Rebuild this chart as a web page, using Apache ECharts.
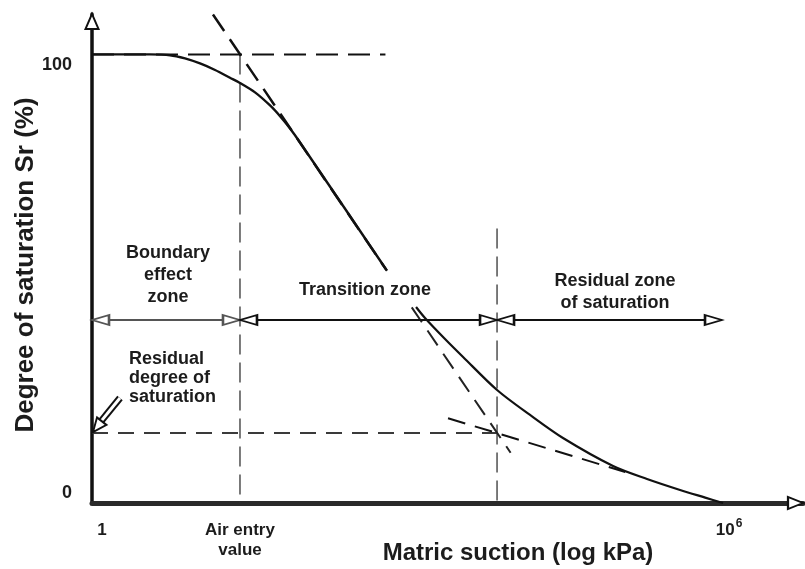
<!DOCTYPE html>
<html>
<head>
<meta charset="utf-8">
<script src="https://cdn.jsdelivr.net/npm/echarts@6/dist/echarts.min.js"></script>
<style>
  html, body { margin: 0; padding: 0; background: #fff; }
  #chart { width: 805px; height: 569px; }
</style>
</head>
<body>
<div id="chart"></div>
<script>
// x = log10(matric suction, kPa), y = degree of saturation Sr (%)
const X_MAX = 6.76, Y_MAX = 109;
const AIR_ENTRY = 1.407;          // air entry value (log kPa)
const RESIDUAL_X = 3.851;         // residual suction (log kPa)
const RESIDUAL_SR = 15.6;         // residual degree of saturation
const ZONE_Y = 40.8;              // level of the zone arrows

// soil-water characteristic curve (split where the "Transition zone" label sits)
const curveUpper = [[0,100],[0.551,100],[0.742,99.82],[0.884,99.09],[1.027,97.97],[1.170,96.52],
  [1.312,94.78],[1.407,93.62],[1.550,91.53],[1.693,88.61],[1.788,86.22],[1.883,83.48],[1.978,80.36],[2.805,51.76]];
const curveLower = [[3.081,43.69],[3.166,41.24],[3.347,36.78],[3.528,32.55],[3.851,25.19],[4.165,19.62],
  [4.478,14.49],[4.954,8.25],[5.277,5.35],[5.591,2.90],[5.83,1.2],[6.0,0]];

// construction lines
const tangentUpper = [[1.15,108.9],[2.80,51.9]];
const tangentLower = [[3.04,43.6],[3.98,11.2]];
const residualTangent = [[3.385,18.9],[5.07,6.9]];
const saturatedLine = [[0,100],[2.79,100]];
const residualLine = [[0,RESIDUAL_SR],[RESIDUAL_X,RESIDUAL_SR]];
const airEntryLine = [[AIR_ENTRY,100],[AIR_ENTRY,0]];
const residualVLine = [[RESIDUAL_X,61.2],[RESIDUAL_X,0]];

// zones along the arrows
const zoneEdges = [0, AIR_ENTRY, RESIDUAL_X, 5.99];

// pointer for "Residual degree of saturation"
const pointerTail = [0.266, 23.4];
const pointerNeck = [0.085, 18.2];
const pointerTip = [0.01, 15.8];

// text notes
const noteTexts = ["Boundary\neffect\nzone", "Transition zone", "Residual zone\nof saturation", "Residual\ndegree of\nsaturation"];
const notePos = [[0.723,50.8],[2.596,47.5],[4.973,47.0],[0.352,27.9]];
const noteLineHeight = [22, 22, 22, 19];
const noteAlign = ["center", "center", "center", "left"];

const xTicks = [0, AIR_ENTRY, 6];
const yTicks = [0, 100];

const FONT = "Liberation Sans, Arial, sans-serif";
const INK = "#1c1c1c";

const chart = echarts.init(document.getElementById("chart"), null, { renderer: "canvas" });

const seg = (data, color, width, type, z, smooth) => ({
  type: "line", data, symbol: "none", silent: true, smooth: smooth || false,
  lineStyle: { color, width, type }, z: z || 2
});

// hollow triangle heads; tip sits on the point, offset moves the triangle back
const head = (pt, dir, color, len, wid) => {
  const rot = { left: 90, right: -90, up: 0 }[dir];
  const off = { left: [len/2, 0], right: [-len/2, 0], up: [0, len/2] }[dir];
  return { value: pt, symbolRotate: rot, symbolOffset: off, symbolSize: [wid, len],
    itemStyle: { color: "#fff", borderColor: color, borderWidth: 2, opacity: 1 } };
};

const heads = [
  head([0, ZONE_Y], "left", "#555", 17, 10),
  head([zoneEdges[1], ZONE_Y], "right", "#555", 17, 10),
  head([zoneEdges[1], ZONE_Y], "left", "#111", 17, 10),
  head([zoneEdges[2], ZONE_Y], "right", "#111", 17, 10),
  head([zoneEdges[2], ZONE_Y], "left", "#111", 17, 10),
  head([zoneEdges[3], ZONE_Y], "right", "#111", 17, 10),
  head([0, Y_MAX], "up", "#111", 15, 13),
  head([X_MAX, 0], "right", "#111", 15, 12),
];

// pointer head, aimed down-left at the residual level
const pointerHead = {
  value: pointerTip, symbolRotate: 141.5, symbolOffset: [4.3, -5.5], symbolSize: [12, 14],
  itemStyle: { color: "#fff", borderColor: "#111", borderWidth: 2, opacity: 1 }
};

const notes = noteTexts.map((t, i) => ({
  name: t, value: notePos[i],
  label: { align: noteAlign[i], lineHeight: noteLineHeight[i] }
}));

chart.setOption({
  animation: false,
  backgroundColor: "#fff",
  grid: { left: 92, right: 2, top: 14, bottom: 66, outerBoundsMode: "none", containLabel: false },
  xAxis: {
    type: "value", min: 0, max: X_MAX,
    splitLine: { show: false }, axisTick: { show: false },
    axisLine: { lineStyle: { color: "#2a2a2a", width: 5 } },
    axisLabel: {
      customValues: xTicks, margin: 17, color: INK, fontFamily: FONT,
      fontWeight: "bold", fontSize: 17, lineHeight: 20,
      formatter: (v) => v === 0 ? "{one|1}" : (v === 6 ? "{base|10}{sup|6}" : "Air entry\nvalue"),
      rich: {
        one: { fontSize: 17, fontWeight: "bold", fontFamily: FONT, color: INK, padding: [0, 0, 0, 20] },
        base: { fontSize: 17, fontWeight: "bold", fontFamily: FONT, color: INK, padding: [0, 0, 0, 12] },
        sup: { fontSize: 12, fontWeight: "bold", fontFamily: FONT, color: INK, padding: [0, 0, 12, 1] }
      }
    },
    name: "Matric suction (log kPa)", nameLocation: "middle", nameGap: 38, nameMoveOverlap: false,
    nameTextStyle: { fontSize: 24, fontWeight: "bold", fontFamily: FONT, color: INK, padding: [0, 0, 0, 141] }
  },
  yAxis: {
    type: "value", min: 0, max: Y_MAX,
    splitLine: { show: false }, axisTick: { show: false },
    axisLine: { lineStyle: { color: "#111", width: 3.5 } },
    axisLabel: {
      customValues: yTicks, margin: 20, color: INK, fontFamily: FONT,
      fontWeight: "bold", fontSize: 18,
      formatter: (v) => v === 100 ? "{hi|100}" : "{lo|0}",
      rich: {
        hi: { fontSize: 18, fontWeight: "bold", fontFamily: FONT, color: INK, padding: [22, 0, 0, 0] },
        lo: { fontSize: 18, fontWeight: "bold", fontFamily: FONT, color: INK, padding: [0, 0, 20, 0] }
      }
    },
    name: "Degree of saturation Sr (%)", nameLocation: "middle", nameGap: 53, nameRotate: 90, nameMoveOverlap: false,
    nameTextStyle: { fontSize: 26, fontWeight: "bold", fontFamily: FONT, color: INK, padding: [0, 13, 0, 0] }
  },
  series: [
    seg(airEntryLine, "#333", 1.3, [20, 8], 1),
    seg(residualVLine, "#333", 1.3, [20, 8], 1),
    seg(residualLine, "#3a3a3a", 2, [16, 10], 1),
    seg(saturatedLine, "#111", 2, [22, 10], 1),
    seg(tangentUpper, "#111", 2.5, [20, 10], 1),
    seg(tangentLower, "#222", 2, [18, 10], 1),
    seg(residualTangent, "#111", 2, [18, 10], 1),
    seg(curveUpper, "#111", 2.4, "solid", 3, 0.3),
    seg(curveLower, "#111", 2.2, "solid", 3, 0.3),
    seg([[zoneEdges[0], ZONE_Y], [zoneEdges[1], ZONE_Y]], "#555", 2, "solid", 2),
    seg([[zoneEdges[1], ZONE_Y], [zoneEdges[2], ZONE_Y]], "#111", 2, "solid", 2),
    seg([[zoneEdges[2], ZONE_Y], [zoneEdges[3], ZONE_Y]], "#111", 2, "solid", 2),
    seg([pointerTail, pointerNeck], "#111", 7, "solid", 4),
    seg([pointerTail, pointerNeck], "#fff", 3, "solid", 5),
    {
      type: "scatter", symbol: "triangle", silent: true, z: 6,
      itemStyle: { opacity: 1 },
      data: heads.concat([pointerHead])
    },
    {
      type: "scatter", symbolSize: 0, silent: true, z: 7,
      itemStyle: { opacity: 1 },
      data: notes,
      label: {
        show: true, position: "inside", formatter: "{b}", color: INK, opacity: 1,
        fontFamily: FONT, fontWeight: "bold", fontSize: 18
      }
    }
  ]
});
</script>
</body>
</html>
